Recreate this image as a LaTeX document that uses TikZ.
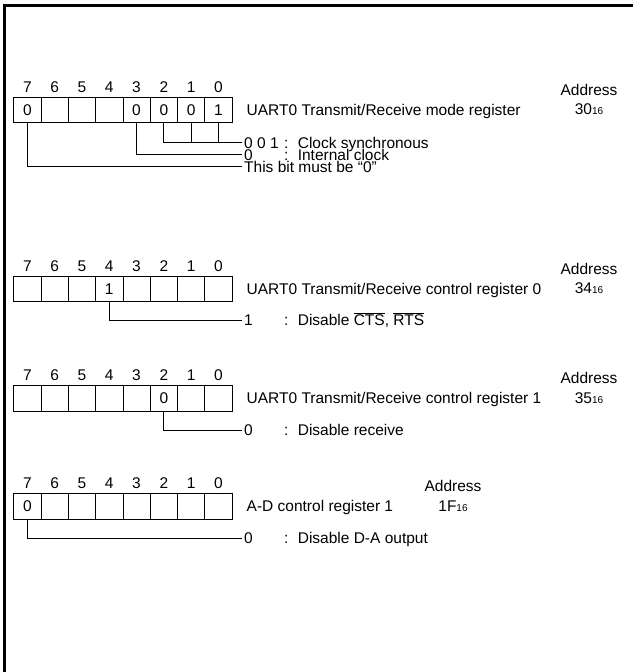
\documentclass[tikz,border=0pt]{standalone}
\usepackage{fontspec}
\setmainfont{Liberation Sans}
\usetikzlibrary{positioning}
\newcommand{\hexnum}[1]{#1{\fontsize{10}{12}\selectfont 16}}
\newcommand{\colgap}{:\hspace{0.6em}}
\begin{document}
\begin{tikzpicture}[x=1pt,y=-1pt,
        font=\fontsize{15.5}{18}\selectfont,
        bitcell/.style={draw,line width=0.8pt,minimum width=27.3pt,
            minimum height=25.5pt,inner sep=0pt,anchor=north west},
        capline/.style={inner sep=0pt,text height=11pt,text depth=0pt},
        leadtext/.style={capline,inner xsep=2pt,anchor=west},
        lead/.style={line width=0.8pt}]
    \useasboundingbox (0,0) rectangle (633,672);
    \draw[line width=3pt] (4.5,672) -- (4.5,5.5) -- (633,5.5);

    % cells and bit numbers
    \foreach \r/\y in {m/96.5, ca/275.5, cb/385, ad/493}
    {
        \foreach \b in {0,...,7}
        {
            \node[bitcell] (\r\b) at ({13.3+(7-\b)*27.3},\y) {};
            \node[capline,above=4pt of \r\b] {\b};
        }
    }
    \foreach \r/\b/\v in {m/7/0, m/3/0, m/2/0, m/1/0, m/0/1, ca/4/1, cb/2/0, ad/7/0}
        \node[capline] at (\r\b) {\v};

    % register names and addresses
    \node[leadtext,right=12pt of m0] (mname) {UART0 Transmit/Receive mode register};
    \node[capline] (maddr) at (589,109.25) {\hexnum{30}};
    \node[capline,above=8pt of maddr] {Address};
    \node[leadtext,right=12pt of ca0] (caname) {UART0 Transmit/Receive control register 0};
    \node[capline] (caaddr) at (589,288.25) {\hexnum{34}};
    \node[capline,above=8pt of caaddr] {Address};
    \node[leadtext,right=12pt of cb0] (cbname) {UART0 Transmit/Receive control register 1};
    \node[capline] (cbaddr) at (589,397.75) {\hexnum{35}};
    \node[capline,above=8pt of cbaddr] {Address};
    \node[leadtext,right=12pt of ad0] (adname) {A-D control register 1};
    \node[capline] (adaddr) at (453,505.75) {\hexnum{1F}};
    \node[capline,above=8pt of adaddr] {Address};

    % bit descriptions
    \node[leadtext] (m2v) at (242,142.5) {0 0 1};
    \node[leadtext] (m2d) at (282,142.5) {\colgap Clock synchronous};
    \node[leadtext] (m3v) at (242,154.5) {0};
    \node[leadtext] (m3d) at (282,154.5) {\colgap Internal clock};
    \node[leadtext] (m7v) at (242,166.5) {This bit must be “0”};
    \draw[lead] (m2.south) |- (m2v.west);
    \draw[lead] (m1.south) -- (m1.south |- m2v.west);
    \draw[lead] (m0.south) -- (m0.south |- m2v.west);
    \draw[lead] (m3.south) |- (m3v.west);
    \draw[lead] (m7.south) |- (m7v.west);

    \node[leadtext] (ca4v) at (242,320) {1};
    \node[leadtext] (ca4d) at (282,320) {\colgap Disable $\overline{\mbox{CTS}}$, $\overline{\mbox{RTS}}$};
    \draw[lead] (ca4.south) |- (ca4v.west);

    \node[leadtext] (cb2v) at (242,430) {0};
    \node[leadtext] (cb2d) at (282,430) {\colgap Disable receive};
    \draw[lead] (cb2.south) |- (cb2v.west);

    \node[leadtext] (ad7v) at (242,538) {0};
    \node[leadtext] (ad7d) at (282,538) {\colgap Disable D-A output};
    \draw[lead] (ad7.south) |- (ad7v.west);
\end{tikzpicture}
\end{document}
